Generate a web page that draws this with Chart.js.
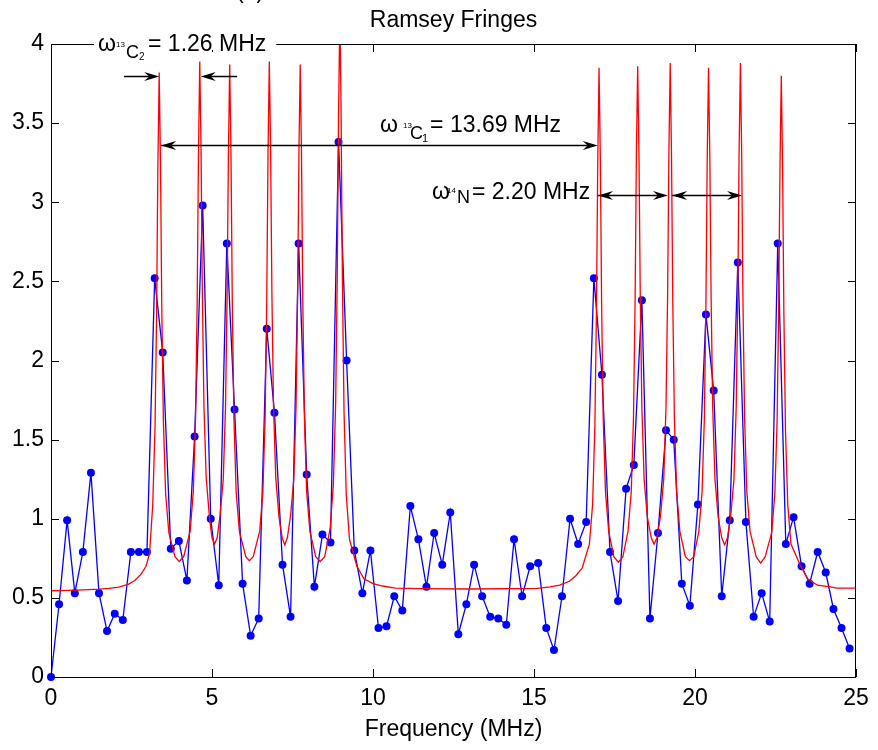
<!DOCTYPE html>
<html>
<head>
<meta charset="utf-8">
<title>Ramsey Fringes</title>
<script src="https://cdn.jsdelivr.net/npm/chart.js@4.4.1/dist/chart.umd.min.js"></script>
<style>
  html, body { margin: 0; padding: 0; background: #fff; }
  #wrap { width: 878px; height: 750px; }
</style>
</head>
<body>
<div id="wrap"><canvas id="ramseyChart" width="878" height="750"></canvas></div>
<script>
// Measured signal (blue dots), frequency in MHz
const freq = [
  0.00, 0.25, 0.50, 0.74, 0.99, 1.24, 1.49, 1.74, 1.98, 2.23,
  2.48, 2.73, 2.98, 3.22, 3.47, 3.72, 3.97, 4.22, 4.46, 4.71,
  4.96, 5.21, 5.46, 5.70, 5.95, 6.20, 6.45, 6.70, 6.94, 7.19,
  7.44, 7.69, 7.94, 8.18, 8.43, 8.68, 8.93, 9.18, 9.42, 9.67,
  9.92, 10.17, 10.42, 10.66, 10.91, 11.16, 11.41, 11.66, 11.90, 12.15,
  12.40, 12.65, 12.90, 13.14, 13.39, 13.64, 13.89, 14.14, 14.38, 14.63,
  14.88, 15.13, 15.38, 15.62, 15.87, 16.12, 16.37, 16.62, 16.86, 17.11,
  17.36, 17.61, 17.86, 18.10, 18.35, 18.60, 18.85, 19.10, 19.34, 19.59,
  19.84, 20.09, 20.34, 20.58, 20.83, 21.08, 21.33, 21.58, 21.82, 22.07,
  22.32, 22.57, 22.82, 23.06, 23.31, 23.56, 23.81, 24.06, 24.30, 24.55,
  24.80
];
const signal = [
  0.00, 0.46, 0.99, 0.53, 0.79, 1.29, 0.53, 0.29, 0.40, 0.36,
  0.79, 0.79, 0.79, 2.52, 2.05, 0.81, 0.86, 0.61, 1.52, 2.98,
  1.00, 0.58, 2.74, 1.69, 0.59, 0.26, 0.37, 2.20, 1.67, 0.71,
  0.38, 2.74, 1.28, 0.57, 0.90, 0.85, 3.38, 2.00, 0.80, 0.53,
  0.80, 0.31, 0.32, 0.51, 0.42, 1.08, 0.87, 0.57, 0.91, 0.71,
  1.04, 0.27, 0.46, 0.71, 0.51, 0.38, 0.37, 0.33, 0.87, 0.51,
  0.70, 0.72, 0.31, 0.17, 0.51, 1.00, 0.84, 0.98, 2.52, 1.91,
  0.79, 0.48, 1.19, 1.34, 2.38, 0.37, 0.91, 1.56, 1.50, 0.59,
  0.45, 1.09, 2.29, 1.81, 0.51, 0.99, 2.62, 0.98, 0.38, 0.53,
  0.35, 2.74, 0.84, 1.01, 0.70, 0.59, 0.79, 0.66, 0.43, 0.31,
  0.18
];

// Fitted fringe curve (red line)
const fitFreq = [
  0.00, 0.50, 1.00, 1.50, 1.80, 2.10, 2.40, 2.60, 2.80, 2.95, 3.06, 3.16,
  3.23, 3.28, 3.32, 3.36, 3.40, 3.44, 3.49, 3.56, 3.66, 3.85, 3.98, 4.12,
  4.32, 4.42, 4.49, 4.54, 4.58, 4.62, 4.66, 4.70, 4.75, 4.82, 4.92, 5.00, 5.08, 5.16,
  5.25, 5.35, 5.42, 5.47, 5.51, 5.55, 5.59, 5.63, 5.68, 5.75, 5.85, 6.05, 6.16, 6.28,
  6.48, 6.58, 6.65, 6.70, 6.74, 6.78, 6.82, 6.86, 6.91, 6.98, 7.08, 7.18, 7.26, 7.34,
  7.44, 7.54, 7.61, 7.66, 7.70, 7.74, 7.78, 7.82, 7.87, 7.94, 8.04, 8.22, 8.36, 8.50,
  8.67, 8.77, 8.84, 8.89, 8.93, 8.97, 9.01, 9.05, 9.10, 9.17, 9.27, 9.50, 9.72,
  10.00, 10.30, 10.70, 11.50, 13.00, 15.10, 15.50, 15.80, 16.10, 16.30, 16.50,
  16.72, 16.82, 16.89, 16.94, 16.98, 17.02, 17.06, 17.10, 17.15, 17.22, 17.32, 17.48, 17.62, 17.76,
  17.92, 18.02, 18.09, 18.14, 18.18, 18.22, 18.26, 18.30, 18.35, 18.42, 18.52, 18.64, 18.73, 18.82,
  18.93, 19.03, 19.10, 19.15, 19.19, 19.23, 19.27, 19.31, 19.36, 19.43, 19.53, 19.70, 19.83, 19.96,
  20.12, 20.22, 20.29, 20.34, 20.38, 20.42, 20.46, 20.50, 20.55, 20.62, 20.72, 20.83, 20.92, 21.01,
  21.11, 21.21, 21.28, 21.33, 21.37, 21.41, 21.45, 21.49, 21.54, 21.61, 21.71, 21.90, 22.04, 22.18,
  22.38, 22.48, 22.55, 22.60, 22.64, 22.68, 22.72, 22.76, 22.81, 22.88, 22.98,
  23.26, 23.50, 23.80, 24.20, 24.40, 25.00
];
const fitValue = [
  0.545, 0.548, 0.551, 0.555, 0.560, 0.568, 0.585, 0.610, 0.650, 0.700, 0.780, 1.09,
  1.57, 2.31, 3.24, 3.82, 3.25, 2.34, 1.62, 1.16, 0.91, 0.76, 0.73, 0.76,
  0.92, 1.17, 1.64, 2.38, 3.31, 3.89, 3.33, 2.43, 1.71, 1.26, 1.01, 0.88, 0.84, 0.88,
  1.02, 1.25, 1.71, 2.42, 3.31, 3.87, 3.29, 2.37, 1.64, 1.17, 0.92, 0.76, 0.735, 0.76,
  0.92, 1.17, 1.64, 2.38, 3.31, 3.89, 3.33, 2.43, 1.71, 1.26, 1.01, 0.88, 0.835, 0.88,
  1.02, 1.25, 1.71, 2.42, 3.31, 3.87, 3.29, 2.37, 1.64, 1.17, 0.92, 0.76, 0.73, 0.76,
  0.94, 1.22, 1.73, 2.54, 3.55, 4.20, 3.55, 2.51, 1.68, 1.15, 0.87, 0.70, 0.62,
  0.59, 0.575, 0.562, 0.558, 0.556, 0.560, 0.570, 0.580, 0.605, 0.640, 0.690,
  0.84, 1.09, 1.58, 2.32, 3.25, 3.85, 3.28, 2.36, 1.63, 1.17, 0.92, 0.76, 0.725, 0.76,
  0.92, 1.17, 1.64, 2.38, 3.31, 3.86, 3.30, 2.41, 1.70, 1.25, 1.01, 0.88, 0.84, 0.88,
  1.02, 1.25, 1.71, 2.42, 3.32, 3.88, 3.30, 2.37, 1.64, 1.17, 0.92, 0.76, 0.735, 0.76,
  0.92, 1.17, 1.63, 2.37, 3.29, 3.85, 3.29, 2.40, 1.70, 1.25, 1.01, 0.88, 0.836, 0.88,
  1.02, 1.25, 1.71, 2.42, 3.32, 3.88, 3.30, 2.37, 1.64, 1.17, 0.92, 0.76, 0.72, 0.76,
  0.91, 1.16, 1.62, 2.34, 3.24, 3.80, 3.22, 2.30, 1.56, 1.09, 0.84,
  0.71, 0.62, 0.58, 0.57, 0.562, 0.562
];

// Axis ticks
const xTicks = [0, 5, 10, 15, 20, 25];
const yTicks = [0, 0.5, 1, 1.5, 2, 2.5, 3, 3.5, 4];

// Text
const chartTitle = 'Ramsey Fringes';
const xTitle = 'Frequency (MHz)';
const panelTag = '(a)';

const FONT = '"Liberation Sans", Arial, Helvetica, sans-serif';

// Rich labels: anchor in data units, parts offset in px (dx, dy, size)
const labels = [
  { x: 1.46, y: 3.956, gap: true, parts: [
    { t: 'ω', dx: 0, dy: 0, size: 23 },
    { t: '13', dx: 18, dy: -4, size: 8 },
    { t: 'C', dx: 28, dy: 7, size: 18 },
    { t: '2', dx: 41, dy: 9, size: 10 },
    { t: '= 1.26 MHz', dx: 50, dy: 0, size: 23 }
  ]},
  { x: 10.22, y: 3.445, parts: [
    { t: 'ω', dx: 0, dy: 0, size: 23 },
    { t: '13', dx: 23, dy: -4, size: 8 },
    { t: 'C', dx: 30, dy: 7, size: 18 },
    { t: '1', dx: 42, dy: 10, size: 11 },
    { t: '= 13.69 MHz', dx: 50, dy: 0, size: 23 }
  ]},
  { x: 11.83, y: 3.02, parts: [
    { t: 'ω', dx: 0, dy: 0, size: 23 },
    { t: '14', dx: 15, dy: -6, size: 8 },
    { t: 'N', dx: 25, dy: 4, size: 18 },
    { t: '= 2.20 MHz', dx: 40, dy: 0, size: 23 }
  ]}
];

// Arrows in data units: heads at 'end' or 'both'
const arrows = [
  { x1: 2.27, x2: 3.36, y: 3.80, heads: 'end' },
  { x1: 5.78, x2: 4.65, y: 3.80, heads: 'end' },
  { x1: 3.42, x2: 16.98, y: 3.36, heads: 'both' },
  { x1: 16.99, x2: 19.16, y: 3.045, heads: 'both' },
  { x1: 19.29, x2: 21.46, y: 3.045, heads: 'both' }
];

function arrowHead(ctx, tipX, tipY, dir) {
  // dir = +1 points right, -1 points left
  ctx.beginPath();
  ctx.moveTo(tipX, tipY);
  ctx.lineTo(tipX - dir * 15, tipY - 4.5);
  ctx.lineTo(tipX - dir * 10, tipY);
  ctx.lineTo(tipX - dir * 15, tipY + 4.5);
  ctx.closePath();
  ctx.fill();
}

const matlabFrame = {
  id: 'matlabFrame',
  afterDraw(chart) {
    const { ctx, chartArea: a, scales } = chart;
    const sx = scales.x, sy = scales.y;
    ctx.save();
    ctx.strokeStyle = '#000';
    ctx.fillStyle = '#000';
    ctx.lineWidth = 1;

    // box
    ctx.strokeRect(a.left + 0.5, a.top + 0.5, a.right - a.left - 1, a.bottom - a.top);

    // inward ticks on all four sides
    ctx.beginPath();
    xTicks.forEach(v => {
      const px = Math.round(sx.getPixelForValue(v)) + 0.5;
      ctx.moveTo(px, a.bottom); ctx.lineTo(px, a.bottom - 8);
      ctx.moveTo(px, a.top); ctx.lineTo(px, a.top + 8);
    });
    yTicks.forEach(v => {
      const py = Math.round(sy.getPixelForValue(v)) + 0.5;
      ctx.moveTo(a.left, py); ctx.lineTo(a.left + 8, py);
      ctx.moveTo(a.right, py); ctx.lineTo(a.right - 8, py);
    });
    ctx.stroke();

    // title, axis title, panel tag
    ctx.textBaseline = 'alphabetic';
    ctx.textAlign = 'center';
    ctx.font = '23px ' + FONT;
    const cx = (a.left + a.right) / 2;
    ctx.fillText(chartTitle, cx, 27);
    ctx.fillText(xTitle, cx, 736);
    ctx.fillText(panelTag, 250, -2);

    // rich labels
    ctx.textAlign = 'left';
    labels.forEach(lb => {
      const ax = sx.getPixelForValue(lb.x);
      const ay = sy.getPixelForValue(lb.y);
      if (lb.gap) {
        const last = lb.parts[lb.parts.length - 1];
        ctx.font = last.size + 'px ' + FONT;
        const end = ax + last.dx + ctx.measureText(last.t).width;
        ctx.fillStyle = '#fff';
        ctx.fillRect(ax - 4, a.top - 6, end - ax + 14, 12);
        ctx.fillStyle = '#000';
      }
      lb.parts.forEach(p => {
        ctx.font = p.size + 'px ' + FONT;
        ctx.fillText(p.t, ax + p.dx, ay + p.dy);
      });
    });

    // arrows
    ctx.lineWidth = 1.5;
    arrows.forEach(ar => {
      const p1 = sx.getPixelForValue(ar.x1);
      const p2 = sx.getPixelForValue(ar.x2);
      const py = Math.round(sy.getPixelForValue(ar.y)) + 0.5;
      const dir = p2 > p1 ? 1 : -1;
      ctx.beginPath();
      ctx.moveTo(p1, py); ctx.lineTo(p2 - dir * 10, py);
      ctx.stroke();
      arrowHead(ctx, p2, py, dir);
      if (ar.heads === 'both') {
        ctx.beginPath();
        ctx.moveTo(p1 + dir * 8, py); ctx.lineTo(p1 + dir * 10, py);
        ctx.stroke();
        arrowHead(ctx, p1, py, -dir);
      }
    });
    ctx.restore();
  }
};

const tickFont = { family: FONT, size: 23 };

new Chart(document.getElementById('ramseyChart'), {
  type: 'scatter',
  data: {
    datasets: [{
      label: 'fit',
      data: fitFreq.map((f, i) => ({ x: f, y: fitValue[i] })),
      showLine: true,
      borderColor: '#ff0000',
      borderWidth: 1.3,
      pointRadius: 0,
      tension: 0,
      clip: 0,
      order: 0
    }, {
      label: 'signal',
      data: freq.map((f, i) => ({ x: f, y: signal[i] })),
      showLine: true,
      borderColor: '#0000ff',
      backgroundColor: '#0000ff',
      borderWidth: 1.3,
      pointRadius: 4,
      pointBorderWidth: 0,
      tension: 0,
      clip: false,
      order: 1
    }]
  },
  options: {
    responsive: false,
    devicePixelRatio: 1,
    animation: false,
    events: [],
    layout: { padding: { top: 44, right: 22, left: 0, bottom: 0 } },
    plugins: {
      legend: { display: false },
      tooltip: { enabled: false },
      title: { display: false }
    },
    scales: {
      x: {
        type: 'linear',
        min: 0,
        max: 25,
        afterBuildTicks: s => { s.ticks = xTicks.map(v => ({ value: v })); },
        afterFit: s => { s.height = 73; },
        grid: { display: false, drawTicks: false },
        border: { display: false },
        ticks: { font: tickFont, color: '#000', padding: 8, maxRotation: 0, autoSkip: false }
      },
      y: {
        type: 'linear',
        min: 0,
        max: 4,
        afterBuildTicks: s => { s.ticks = yTicks.map(v => ({ value: v })); },
        afterFit: s => { s.width = 51; },
        grid: { display: false, drawTicks: false },
        border: { display: false },
        ticks: { font: tickFont, color: '#000', padding: 7, callback: v => String(v) }
      }
    }
  },
  plugins: [matlabFrame]
});
</script>
</body>
</html>
